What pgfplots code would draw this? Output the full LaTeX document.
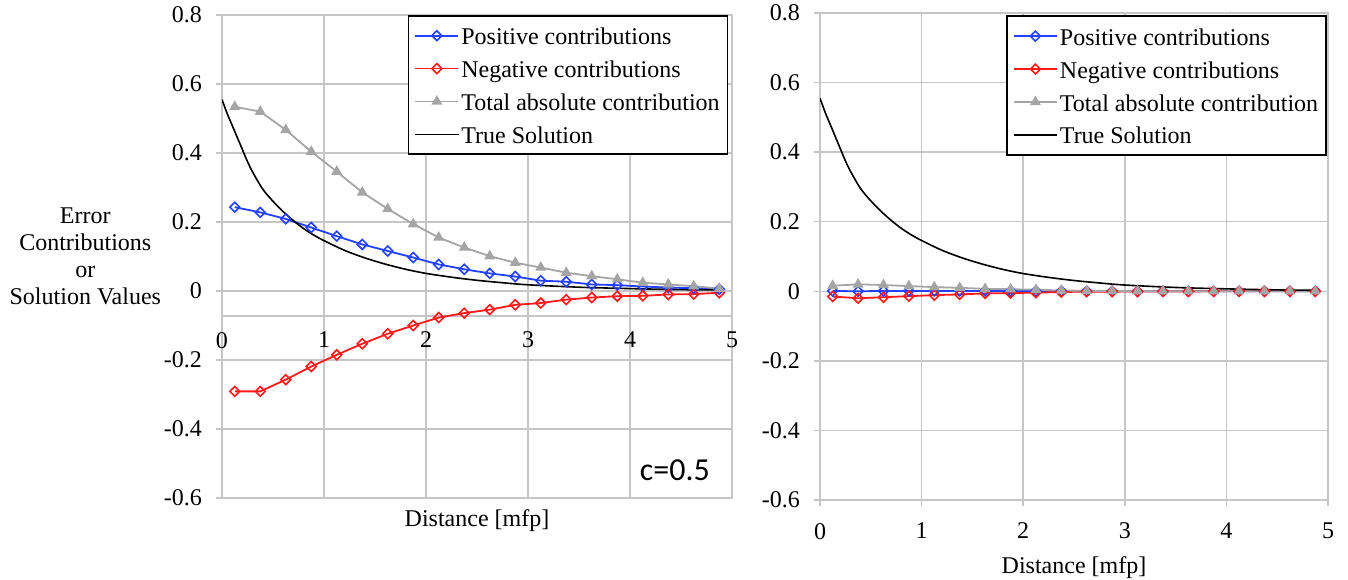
\documentclass[border=0pt]{standalone}
\usepackage{fontspec}
\setmainfont{Liberation Serif}
\newfontfamily\calibri{Carlito}
\usepackage{pgfplots}
\usepackage{pgfplotstable}
\pgfplotsset{compat=1.18}
\definecolor{posblue}{RGB}{35,65,255}
\definecolor{negred}{RGB}{255,25,25}
\definecolor{totgray}{RGB}{165,165,165}
\definecolor{gridgray}{RGB}{198,198,198}

\pgfplotstableread{
x     pos    neg     tot
0.125 0.243 -0.291  0.534
0.375 0.228 -0.291  0.520
0.625 0.209 -0.257  0.467
0.875 0.184 -0.219  0.404
1.125 0.159 -0.185  0.346
1.375 0.135 -0.153  0.286
1.625 0.116 -0.124  0.238
1.875 0.097 -0.100  0.194
2.125 0.077 -0.077  0.155
2.375 0.063 -0.064  0.126
2.625 0.051 -0.054  0.101
2.875 0.042 -0.040  0.082
3.125 0.030 -0.035  0.068
3.375 0.027 -0.025  0.053
3.625 0.019 -0.019  0.043
3.875 0.017 -0.015  0.034
4.125 0.013 -0.014  0.024
4.375 0.010 -0.010  0.019
4.625 0.008 -0.009  0.014
4.875 0.005 -0.005  0.007
}\leftdata

\pgfplotstableread{
x     pos     neg      tot
0.125 0.001  -0.015   0.016
0.375 0.000  -0.020   0.020
0.625 0.001  -0.017   0.018
0.875 0.001  -0.014   0.015
1.125 0.001  -0.011   0.012
1.375 0.001  -0.009   0.010
1.625 0.001  -0.006   0.007
1.875 0.001  -0.005   0.006
2.125 0.0005 -0.004   0.0045
2.375 0.0005 -0.002   0.0025
2.625 0.0003 -0.001   0.0013
2.875 0.0002 -0.001   0.0012
3.125 0.0001 -0.0005  0.0006
3.375 0.0    -0.0003  0.0003
3.625 0.0    -0.0002  0.0002
3.875 0.0    -0.0001  0.0001
4.125 0.0     0.0     0.0
4.375 0.0     0.0     0.0
4.625 0.0     0.0     0.0
4.875 0.0     0.0     0.0
}\rightdata

\pgfplotstableread{
x     y
0.0   0.555
0.05  0.515
0.1   0.480
0.15  0.445
0.2   0.410
0.25  0.375
0.3   0.345
0.4   0.295
0.5   0.260
0.6   0.230
0.7   0.204
0.8   0.181
0.9   0.162
1.0   0.146
1.2   0.118
1.4   0.096
1.6   0.078
1.8   0.063
2.0   0.051
2.25  0.040
2.5   0.031
2.75  0.024
3.0   0.018
3.5   0.011
4.0   0.007
4.5   0.004
4.875 0.003
}\truesol

\pgfplotsset{
  mystyle/.style={
    scale only axis,
    xmin=0, xmax=5, ymin=-0.6, ymax=0.8,
    xtick={0,1,2,3,4,5},
    ytick={-0.6,-0.4,-0.2,0,0.2,0.4,0.6,0.8},
    grid=major,
    major grid style={gridgray, line width=0.75pt},
    axis line style={gridgray, line width=0.75pt},
    tick style={gridgray, line width=0.75pt},
    tick align=outside, major tick length=3pt,
    tick pos=left,
    /pgf/number format/assume math mode=true,
    ticklabel style={font=\fontsize{12}{14}\selectfont},
    yticklabel style={/pgf/number format/fixed, /pgf/number format/precision=1, xshift=-3.5pt},
    xlabel={Distance [mfp]},
    label style={font=\fontsize{12}{14}\selectfont},
    legend cell align=left,
    legend style={draw=black, line width=0.8pt, font=\fontsize{12}{14}\selectfont,
      inner xsep=3pt, inner ysep=2.4pt, row sep=1.35pt,
      nodes={text height=10.1pt, text depth=1pt, inner xsep=1pt}},
    legend image code/.code={\draw[mark repeat=2,mark phase=2,##1] plot coordinates {(0cm,0cm) (0.38cm,0cm) (0.76cm,0cm)};},
  },
  posstyle/.style={posblue, line width=0.9pt, mark=square, mark size=1.75pt, mark options={rotate=45, fill=white, solid, line width=0.8pt}},
  negstyle/.style={negred, line width=0.9pt, mark=square, mark size=1.75pt, mark options={rotate=45, fill=white, solid, line width=0.8pt}},
  totstyle/.style={totgray, line width=0.9pt, mark=triangle*, mark size=2.3pt, mark options={solid}},
  truestyle/.style={black, line width=0.8pt, smooth, no marks},
}

\begin{document}
\begin{tikzpicture}
\useasboundingbox (0,0) rectangle (674pt,289.5pt);
% left panel
\begin{axis}[mystyle,
  at={(111pt,40.5pt)}, anchor=south west,
  width=255pt, height=241.5pt,
  xtick style={draw=none},
  xticklabel style={yshift=89.5pt},
  xlabel style={at={(axis description cs:0.5,0)}, anchor=north, yshift=-2.5pt},
  ylabel={Error\\Contributions\\or\\Solution Values},
  ylabel style={rotate=-90, align=center, font=\fontsize{12}{13.5}\selectfont,
    at={(axis description cs:-0.268,0.5)}, anchor=center},
  legend style={at={(0.993,1)}, anchor=north east},
]
\draw[gridgray, line width=0.75pt] (axis cs:0,-0.072) -- (axis cs:5,-0.072);
\addplot[posstyle] table[x=x,y=pos]{\leftdata};
\addlegendentry{Positive contributions}
\addplot[negstyle] table[x=x,y=neg]{\leftdata};
\addlegendentry{Negative contributions}
\addplot[totstyle] table[x=x,y=tot]{\leftdata};
\addlegendentry{Total absolute contribution}
\addplot[truestyle] table[x=x,y=y]{\truesol};
\addlegendentry{True Solution}
\node[font=\calibri\fontsize{16}{18}\selectfont] at (rel axis cs:0.888,0.058) {c=0.5};
\end{axis}
% right panel
\begin{axis}[mystyle,
  at={(410pt,39.5pt)}, anchor=south west,
  width=254pt, height=243.5pt,
  xticklabel style={yshift=-5pt},
  xlabel style={at={(axis description cs:0.5,0)}, anchor=north, yshift=-25pt},
  legend style={at={(0.998,0.995)}, anchor=north east},
]
\addplot[posstyle] table[x=x,y=pos]{\rightdata};
\addlegendentry{Positive contributions}
\addplot[negstyle] table[x=x,y=neg]{\rightdata};
\addlegendentry{Negative contributions}
\addplot[totstyle] table[x=x,y=tot]{\rightdata};
\addlegendentry{Total absolute contribution}
\addplot[truestyle] table[x=x,y=y]{\truesol};
\addlegendentry{True Solution}
\end{axis}
\end{tikzpicture}
\end{document}
